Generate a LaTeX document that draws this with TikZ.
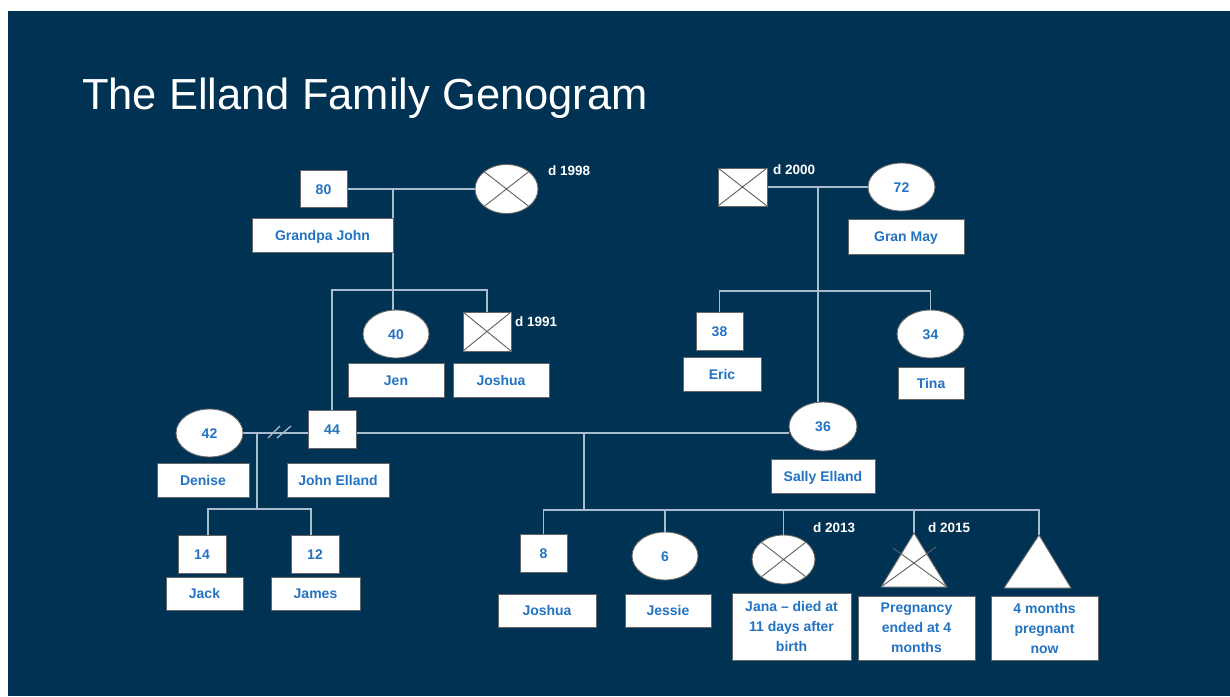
\documentclass[tikz,border=0pt]{standalone}
\usepackage{fontspec}
\setmainfont{Liberation Sans}
\usetikzlibrary{shapes.geometric,backgrounds}
\definecolor{navy}{RGB}{0,50,84}
\definecolor{txtblue}{RGB}{35,115,195}
\definecolor{linec}{RGB}{170,188,208}
\definecolor{crossc}{RGB}{95,95,95}
\tikzset{
  wh/.style 2 args={minimum width=#1, minimum height=#2},
  base/.style={fill=white, draw=black!60, line width=0.9pt, inner sep=0pt, text=txtblue,
    font=\fontsize{14}{20}\selectfont\bfseries, align=center},
  one/.style={text height=10pt, text depth=0pt},
  sqbox/.style={base, one, rectangle},
  ellbox/.style={base, one, ellipse},
  lblbox/.style={base, one, rectangle},
  multibox/.style={base, rectangle},
  crossed/.style={path picture={\draw[crossc, line width=0.9pt]
    (path picture bounding box.north west) -- (path picture bounding box.south east)
    (path picture bounding box.south west) -- (path picture bounding box.north east);}},
  dtext/.style={anchor=west, inner sep=0pt, text=white, font=\fontsize{13.5}{16}\selectfont\bfseries},
  titletext/.style={anchor=base west, inner sep=0pt, text=white, font=\fontsize{43.5}{50}\selectfont},
  conn/.style={draw=linec, line width=1.3pt},
  tri/.style={fill=white, draw=black!60, line width=0.9pt, line join=miter},
  crossline/.style={draw=crossc, line width=0.9pt}
}
\begin{document}
\begin{tikzpicture}[x=1pt,y=-1pt]
\useasboundingbox (0,0) rectangle (1230,696);

% Title
\node[titletext] (title) at (82,109.5) {The Elland Family Genogram};

% Paternal grandparents
\node[sqbox, wh={47}{37}] (g80) at (323.5,189) {80};
\node[lblbox, wh={141}{34}] (g80l) at (322.5,235) {Grandpa John};
\node[ellbox, crossed, wh={63}{49}] (gm) at (506.5,189) {};
\node[dtext] (gmd) at (548,171) {d 1998};
\node[ellbox, wh={66}{48}] (jen) at (396,334) {40};
\node[lblbox, wh={96}{34}] (jenl) at (396,380) {Jen};
\node[sqbox, crossed, wh={48}{39}] (jos1) at (487,331.5) {};
\node[dtext] (jos1d) at (515,322) {d 1991};
\node[lblbox, wh={96}{34}] (jos1l) at (501,380) {Joshua};

% Maternal grandparents
\node[sqbox, crossed, wh={49}{38}] (gf2) at (742.5,187) {};
\node[dtext] (gf2d) at (773,170) {d 2000};
\node[ellbox, wh={67}{48}] (may) at (901.5,187) {72};
\node[lblbox, wh={116}{35}] (mayl) at (906,236.5) {Gran May};
\node[sqbox, wh={47}{38}] (eric) at (719.5,331) {38};
\node[lblbox, wh={78}{34}] (ericl) at (722,374) {Eric};
\node[ellbox, wh={67}{48}] (tina) at (930.5,334) {34};
\node[lblbox, wh={66}{32}] (tinal) at (931,383) {Tina};

% Parents generation
\node[ellbox, wh={67}{48}] (denise) at (209.5,433) {42};
\node[lblbox, wh={92}{34}] (denisel) at (203,480) {Denise};
\node[sqbox, wh={48}{38}] (je) at (332,429) {44};
\node[lblbox, wh={102}{34}] (jel) at (338,480) {John Elland};
\node[ellbox, wh={68}{49}] (sally) at (823,426.5) {36};
\node[lblbox, wh={104}{34}] (sallyl) at (823,476) {Sally Elland};

% Children of first marriage
\node[sqbox, wh={48}{38}] (jack) at (202,554) {14};
\node[lblbox, wh={77}{33}] (jackl) at (204.5,593.5) {Jack};
\node[sqbox, wh={48}{38}] (james) at (315,554) {12};
\node[lblbox, wh={89}{33}] (jamesl) at (315.5,593.5) {James};

% Children of second marriage
\node[sqbox, wh={47}{38}] (jos8) at (543.5,553) {8};
\node[lblbox, wh={98}{33}] (jos8l) at (547,610.5) {Joshua};
\node[ellbox, wh={66}{48}] (jessie) at (665,556) {6};
\node[lblbox, wh={86}{33}] (jessiel) at (668,610.5) {Jessie};
\node[ellbox, crossed, wh={63}{49}] (jana) at (783.5,559.5) {};
\node[dtext] (janad) at (813,528) {d 2013};
\node[multibox, wh={119}{67}] (janal) at (791.5,626.5) {Jana -- died at\\11 days after\\birth};

\draw[tri] (914,533) coordinate (preg) -- (947,587) -- (881,587) -- cycle;
\draw[crossline] (893,548) -- (947,587) (936,547) -- (881,587);
\node[dtext] (pregd) at (928,528) {d 2015};
\node[multibox, wh={117}{64}] (pregl) at (916.5,628) {Pregnancy\\ended at 4\\months};

\draw[tri] (1039,535) coordinate (baby) -- (1071,588) -- (1004,588) -- cycle;
\node[multibox, wh={107}{64}] (babyl) at (1044.5,628) {4 months\\pregnant\\now};

\begin{pgfonlayer}{background}
  \fill[white] (0,0) rectangle (1230,696);
  \fill[navy] (8,11) rectangle (1230,696);

  % paternal family
  \draw[conn] (g80.east) -- (gm.west);
  \coordinate (m1) at (393,189);
  \draw[conn] (m1) -- (m1 |- jen.north);
  \coordinate (s1) at (393,290);
  \draw[conn] (je.north) |- (s1) -| (jos1.north);

  % maternal family
  \draw[conn] (gf2.east) -- (may.west);
  \coordinate (m2) at (818,187);
  \draw[conn] (m2) -- (m2 |- sally.north);
  \coordinate (s2) at (818,291);
  \draw[conn] (eric.north) |- (s2) -| (tina.north);

  % marriages
  \draw[conn] (denise.east) -- (denise.east -| je.west);
  \draw[conn] (je.east |- denise.east) -- (sally.west |- denise.east);
  \coordinate (dv) at (279,433);
  \draw[conn] (dv) ++(-11,5) -- ++(12,-12);
  \draw[conn] (dv) ++(-2,5) -- ++(14,-12);

  % children of first marriage
  \coordinate (c1) at (257,433);
  \coordinate (c1b) at (257,509);
  \draw[conn] (c1) -- (c1b);
  \draw[conn] ([xshift=6pt]jack.north) |- (c1b) -| ([xshift=-4pt]james.north);

  % children of second marriage
  \coordinate (c2) at (584,433);
  \coordinate (c2b) at (584,510);
  \draw[conn] (c2) -- (c2b);
  \draw[conn] (jos8.north) |- (c2b) -| (baby);
  \draw[conn] (jessie.north |- c2b) -- (jessie.north);
  \draw[conn] (jana.north |- c2b) -- (jana.north);
  \draw[conn] (preg |- c2b) -- (preg);
\end{pgfonlayer}
\end{tikzpicture}
\end{document}
